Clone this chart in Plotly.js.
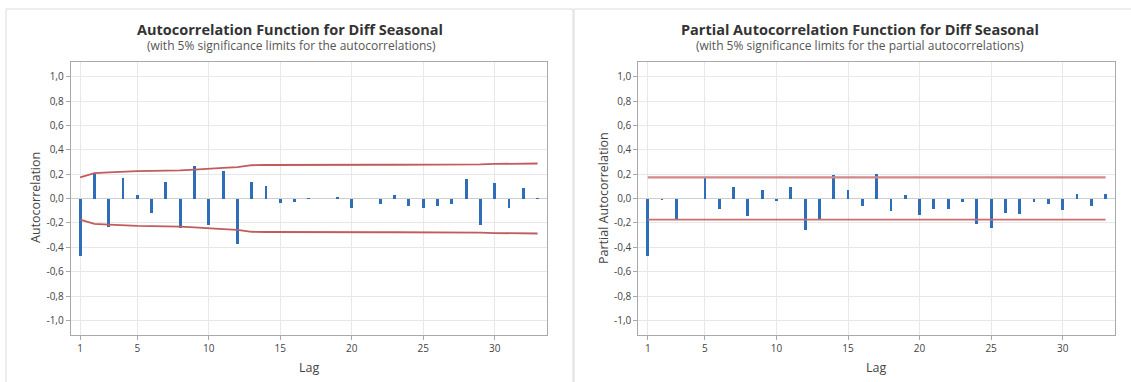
<!DOCTYPE html>
<html>
<head>
<meta charset="utf-8">
<script src="https://cdn.plot.ly/plotly-3.0.1.min.js"></script>
<style>html,body{margin:0;padding:0;background:#fff;}#chart{width:1131px;height:382px;}</style>
</head>
<body>
<div id="chart"></div>
<script>
// ---- data ----
const lags = [1,2,3,4,5,6,7,8,9,10,11,12,13,14,15,16,17,18,19,20,21,22,23,24,25,26,27,28,29,30,31,32,33];
const acfValues = [-0.474,0.210,-0.233,0.167,0.027,-0.115,0.137,-0.238,0.266,-0.214,0.225,-0.370,0.137,0.104,-0.036,-0.025,0.008,-0.003,0.016,-0.074,-0.005,-0.047,0.027,-0.063,-0.077,-0.060,-0.049,0.156,-0.214,0.126,-0.082,0.090,0.002];
const acfUpperLimit = [0.173,0.208,0.214,0.222,0.225,0.226,0.227,0.230,0.237,0.246,0.251,0.257,0.273,0.275,0.276,0.276,0.276,0.276,0.276,0.277,0.277,0.277,0.277,0.277,0.278,0.278,0.278,0.278,0.280,0.284,0.286,0.286,0.287];
const acfLowerLimit = acfUpperLimit.map(v => -v);
const pacfValues = [-0.474,-0.010,-0.179,-0.005,0.171,-0.083,0.096,-0.146,0.066,-0.022,0.094,-0.256,-0.176,0.190,0.069,-0.061,0.201,-0.105,0.030,-0.138,-0.088,-0.085,-0.025,-0.207,-0.242,-0.118,-0.124,-0.025,-0.047,-0.091,0.039,-0.061,0.041];
const pacfUpperLimit = [0.173,0.173,0.173,0.173,0.173,0.173,0.173,0.173,0.173,0.173,0.173,0.173,0.173,0.173,0.173,0.173,0.173,0.173,0.173,0.173,0.173,0.173,0.173,0.173,0.173,0.173,0.173,0.173,0.173,0.173,0.173,0.173,0.173];
const pacfLowerLimit = pacfUpperLimit.map(v => -v);
const xTickVals = [1,5,10,15,20,25,30];
const yTickVals = [-1.0,-0.8,-0.6,-0.4,-0.2,0.0,0.2,0.4,0.6,0.8,1.0];
const yTickText = ['-1,0','-0,8','-0,6','-0,4','-0,2','0,0','0,2','0,4','0,6','0,8','1,0'];

const W = 1131, H = 382;
const px = v => v / W;
const py = v => 1 - v / H;

const barColor = '#2E6DB8';
const limColor = '#C25B5B';
const font = '"Open Sans", "Noto Sans", sans-serif';

const traces = [
  {type:'bar', x:lags, y:acfValues, width:0.2, marker:{color:barColor, line:{width:0}}, xaxis:'x', yaxis:'y', hoverinfo:'x+y'},
  {type:'scatter', mode:'lines', x:lags, y:acfUpperLimit, line:{color:limColor, width:1.8}, xaxis:'x', yaxis:'y'},
  {type:'scatter', mode:'lines', x:lags, y:acfLowerLimit, line:{color:limColor, width:1.8}, xaxis:'x', yaxis:'y'},
  {type:'bar', x:lags, y:pacfValues, width:0.2, marker:{color:barColor, line:{width:0}}, xaxis:'x2', yaxis:'y2', hoverinfo:'x+y'},
  {type:'scatter', mode:'lines', x:lags, y:pacfUpperLimit, line:{color:'#D08888', width:2.2}, xaxis:'x2', yaxis:'y2'},
  {type:'scatter', mode:'lines', x:lags, y:pacfLowerLimit, line:{color:'#CC6E6E', width:1.8}, xaxis:'x2', yaxis:'y2'}
];

function xa(domain, anchor){
  return {domain:domain, anchor:anchor, range:[0.34,33.66], tickvals:xTickVals, showgrid:true, gridcolor:'#e8e8e8', gridwidth:1,
    zeroline:false, showline:true, mirror:true, linecolor:'#a8a8a8', linewidth:1, ticks:'outside', ticklen:4, tickcolor:'#a8a8a8',
    tickfont:{family:font, size:10, color:'#444'}, fixedrange:true};
}
function ya(anchor){
  return {domain:[py(335), py(62)], anchor:anchor, range:[-1.12,1.12], tickvals:yTickVals, ticktext:yTickText, showgrid:true,
    gridcolor:'#e8e8e8', gridwidth:1, zeroline:true, zerolinecolor:'#cfcfcf', zerolinewidth:1, showline:true, mirror:true,
    linecolor:'#a8a8a8', linewidth:1, ticks:'outside', ticklen:4, tickcolor:'#a8a8a8',
    tickfont:{family:font, size:10, color:'#444'}, fixedrange:true};
}

const ann = (x, y, text, size, bold, extra) => Object.assign({xref:'paper', yref:'paper', x:px(x), y:py(y), text: bold ? '<b>'+text+'</b>' : text,
  showarrow:false, xanchor:'center', yanchor:'middle', font:{family:font, size:size, color: bold ? '#333' : '#555'}}, extra || {});

const layout = {
  width:W, height:H, margin:{l:0,r:0,t:0,b:0}, paper_bgcolor:'#fff', plot_bgcolor:'#fff', showlegend:false, bargap:0,
  separators:',.',
  xaxis: xa([px(70.7), px(547)], 'y'),
  yaxis: ya('x'),
  xaxis2: xa([px(638.3), px(1115)], 'y2'),
  yaxis2: ya('x2'),
  shapes: [
    {type:'rect', xref:'paper', yref:'paper', x0:px(6), x1:px(573), y0:-0.1, y1:py(9), line:{color:'#dcdcdc', width:1}, layer:'below'},
    {type:'rect', xref:'paper', yref:'paper', x0:px(574), x1:px(1145), y0:-0.1, y1:py(9), line:{color:'#dcdcdc', width:1}, layer:'below'}
  ],
  annotations: [
    ann(290, 29, 'Autocorrelation Function for Diff Seasonal', 14.5, true),
    ann(291, 46, '(with 5% significance limits for the autocorrelations)', 12, false),
    ann(860, 29, 'Partial Autocorrelation Function for Diff Seasonal', 14.5, true),
    ann(860, 46, '(with 5% significance limits for the partial autocorrelations)', 12, false),
    ann(35, 198, 'Autocorrelation', 12.5, false, {textangle:-90, font:{family:font, size:12.5, color:'#444'}}),
    ann(603, 198, 'Partial Autocorrelation', 12.5, false, {textangle:-90, font:{family:font, size:12.5, color:'#444'}}),
    ann(309, 367, 'Lag', 12.5, false, {font:{family:font, size:12.5, color:'#444'}}),
    ann(876, 367, 'Lag', 12.5, false, {font:{family:font, size:12.5, color:'#444'}})
  ]
};

Plotly.newPlot('chart', traces, layout, {displayModeBar:false, staticPlot:true});
</script>
</body>
</html>
